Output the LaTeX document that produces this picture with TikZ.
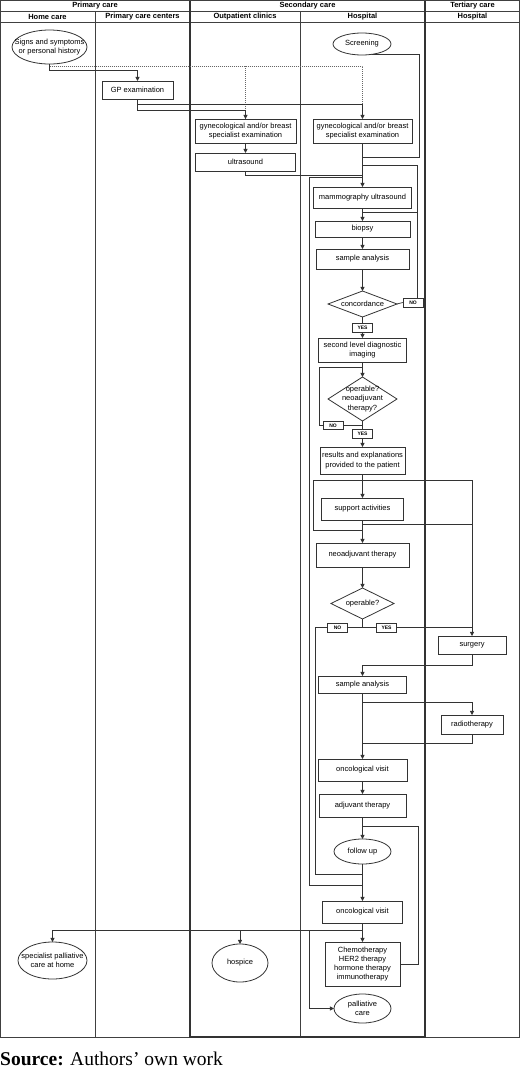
\documentclass[tikz,border=0pt]{standalone}
\usepackage{fontspec}
\setmainfont{Liberation Sans}
\newfontfamily\srcserif{Liberation Serif}
\usetikzlibrary{shapes.geometric,arrows.meta}
\newcommand\nodefont{\fontsize{7.5pt}{9.2pt}\selectfont}
\newcommand\headfont{\bfseries\fontsize{7.5pt}{9pt}\selectfont}
\newcommand\tagfont{\bfseries\fontsize{5pt}{6pt}\selectfont}
\def\hx{362.5}
\begin{document}
\begin{tikzpicture}[x=1pt,y=-1pt,
 nodetxt/.style={font=\nodefont,align=center,inner sep=0pt},
 base/.style={draw=black!80,line width=0.8pt,inner sep=0pt,outer sep=0pt,font=\nodefont,align=center},
 box/.style={base,rectangle},
 ell/.style={base,ellipse},
 dia/.style={base,diamond},
 tag/.style={draw=black!80,line width=0.6pt,inner sep=0pt,font=\tagfont,minimum width=20,minimum height=9},
 conn/.style={draw=black!80,line width=0.75pt},
 arr/.style={conn,-{Triangle[length=4.2pt,width=4.2pt]}},
 dotl/.style={draw=black!60,line width=0.75pt,dash pattern=on 1pt off 1pt},
 lane/.style={draw=black!75,line width=0.8pt},
 pool/.style={draw=black!80,line width=1.4pt},
 head/.style={font=\headfont,inner sep=0pt}
]
\useasboundingbox (0,0) rectangle (520,1074);
% lanes
\draw[lane] (0.5,0.5) rectangle (519.5,1037);
\draw[lane] (0.5,11) -- (519.5,11);
\draw[lane] (0.5,22) -- (519.5,22);
\draw[lane] (95,11) -- (95,1037);
\draw[lane] (300,11) -- (300,1037);
\draw[pool] (190,0.5) -- (190,1037) -- (425,1037) -- (425,0.5);
% headers
\node[head] (h1) at (95,6) {Primary care};
\node[head] (h2) at (307.5,6) {Secondary care};
\node[head] (h3) at (472.5,6) {Tertiary care};
\node[head] (h4) at (47.5,16.5) {Home care};
\node[head] (h5) at (142.5,16.5) {Primary care centers};
\node[head] (h6) at (245,16.5) {Outpatient clinics};
\node[head] (h7) at (362.5,16.5) {Hospital};
\node[head] (h8) at (472.5,16.5) {Hospital};
% nodes
\node[ell,minimum width=75,minimum height=34,label={[nodetxt]center:Signs and symptoms\\or personal history}] (sig) at (49.5,47) {};
\node[ell,minimum width=58,minimum height=22,label={[nodetxt]center:Screening}] (scr) at (362,44) {};
\node[box,minimum width=71,minimum height=18] (gp) at (137.5,90) {GP examination};
\node[box,minimum width=101,minimum height=24] (op1) at (245.5,131) {gynecological and/or breast\\specialist examination};
\node[box,minimum width=99,minimum height=24] (hg) at (\hx,131) {gynecological and/or breast\\specialist examination};
\node[box,minimum width=100,minimum height=18] (us) at (245.5,162) {ultrasound};
\node[box,minimum width=98,minimum height=21] (mam) at (\hx,197.5) {mammography ultrasound};
\node[box,minimum width=95,minimum height=16] (bio) at (\hx,229) {biopsy};
\node[box,minimum width=93,minimum height=20] (sa1) at (\hx,259) {sample analysis};
\node[dia,minimum width=69,minimum height=26,label={[nodetxt]center:concordance}] (conc) at (\hx,304) {};
\node[tag] (no1) at (413,302.5) {NO};
\node[tag] (yes1) at (\hx,327.5) {YES};
\node[box,minimum width=88,minimum height=24] (sec) at (\hx,350) {second level diagnostic\\imaging};
\node[dia,minimum width=69,minimum height=44,label={[nodetxt]center:operable?\\neoadjuvant\\therapy?}] (op2) at (\hx,399) {};
\node[tag,minimum height=8] (no2) at (333,425.5) {NO};
\node[tag] (yes2) at (\hx,434) {YES};
\node[box,minimum width=85,minimum height=27] (res) at (\hx,460.5) {results and explanations\\provided to the patient};
\node[box,minimum width=82,minimum height=22] (sup) at (\hx,509) {support activities};
\node[box,minimum width=93,minimum height=24] (neo) at (\hx,555) {neoadjuvant therapy};
\node[dia,minimum width=63,minimum height=31,label={[nodetxt]center:operable?}] (opb) at (\hx,603.5) {};
\node[tag] (no3) at (337.5,627.5) {NO};
\node[tag] (yes3) at (386.5,627.5) {YES};
\node[box,minimum width=68,minimum height=18] (surg) at (472,645) {surgery};
\node[box,minimum width=88,minimum height=17] (sa2) at (\hx,684.5) {sample analysis};
\node[box,minimum width=62,minimum height=19] (rad) at (472,724.5) {radiotherapy};
\node[box,minimum width=89,minimum height=22] (onc1) at (\hx,770) {oncological visit};
\node[box,minimum width=87,minimum height=23] (adj) at (\hx,805.5) {adjuvant therapy};
\node[ell,minimum width=57,minimum height=25,label={[nodetxt]center:follow up}] (fu) at (\hx,851.5) {};
\node[box,minimum width=80,minimum height=22] (onc2) at (\hx,912) {oncological visit};
\node[box,minimum width=75,minimum height=44] (chemo) at (\hx,964) {Chemotherapy\\HER2 therapy\\hormone therapy\\immunotherapy};
\node[ell,minimum width=57,minimum height=29,label={[nodetxt]center:palliative\\care}] (pal) at (\hx,1008.5) {};
\node[ell,minimum width=69,minimum height=37,label={[nodetxt]center:specialist palliative\\care at home}] (home) at (52.5,960.5) {};
\node[ell,minimum width=56,minimum height=38,label={[nodetxt]center:hospice}] (hosp) at (240,963) {};
% connectors
\coordinate (dj) at (49.5,66);
\draw[dotl] (dj) -| (op1.north);
\draw[dotl] (op1.north |- dj) -| (hg.north);
\draw[arr] (sig.south) -- (49.5,70) -| (gp.north);
\draw[arr] (gp.south) -- (137.5,110) -| (op1.north);
\draw[arr] (gp.south) -- (137.5,104) -| (hg.north);
\draw[arr] (op1.south) -- (us.north);
\draw[conn] (us.south) |- (\hx,175);
\draw[arr] (hg.south) -- (mam.north);
\draw[conn] (scr.-45) -| (419,157) -- (\hx,157);
\draw[arr] (mam.south) -- (bio.north);
\draw[arr] (bio.south) -- (sa1.north);
\draw[arr] (sa1.south) -- (conc.north);
\draw[conn] (conc.east) -- (no1.west);
\draw[conn] ([xshift=4pt]no1.north) -- (417,165) -- (\hx,165);
\draw[conn] (417,212) -- (\hx,212);
\draw[conn] (conc.south) -- (yes1.north);
\draw[arr] (yes1.south) -- (sec.north);
\draw[arr] (sec.south) -- (op2.north);
\draw[conn] (op2.south) |- (no2.east);
\draw[conn] (no2.west) -| (319,367) -- (\hx,367);
\draw[conn] (op2.south) -- (yes2.north);
\draw[arr] (yes2.south) -- (res.north);
\draw[arr] (res.south) -- (sup.north);
\draw[arr] (\hx,480) -| (surg.north);
\draw[conn] (\hx,480) -- (313,480) -- (313,530) -- (\hx,530);
\draw[arr] (sup.south) -- (neo.north);
\draw[conn] (\hx,524) -- (472,524);
\draw[arr] (neo.south) -- (opb.north);
\draw[conn] (opb.south) |- (no3.east);
\draw[conn] (no3.west) -| (315,874) -- (\hx,874);
\draw[conn] (opb.south |- yes3.west) -- (yes3.west);
\draw[conn] (yes3.east) -- (472,627.5);
\draw[arr] (surg.south) -- (472,665) -| (sa2.north);
\draw[arr] (sa2.south) -- (onc1.north);
\draw[arr] (\hx,702) -| (rad.north);
\draw[conn] (rad.south) |- (\hx,743);
\draw[arr] (onc1.south) -- (adj.north);
\draw[arr] (adj.south) -- (fu.north);
\draw[conn] (chemo.east) -| (418,826) -- (\hx,826);
\draw[arr] (fu.south) -- (onc2.north);
\draw[conn] (\hx,885) -- (309,885) -- (309,177) -- (\hx,177);
\draw[arr] (onc2.south) -- (chemo.north);
\draw[arr] (\hx,930) -| (home.north);
\draw[arr] (\hx,930) -| (hosp.north);
\draw[arr] (309,930) |- (pal.west);
% source
\node[anchor=base west,inner sep=0pt,font=\srcserif\fontsize{19.5pt}{22pt}\selectfont] (src) at (0,1065) {\textbf{Source:} Authors’ own work};
\end{tikzpicture}
\end{document}
